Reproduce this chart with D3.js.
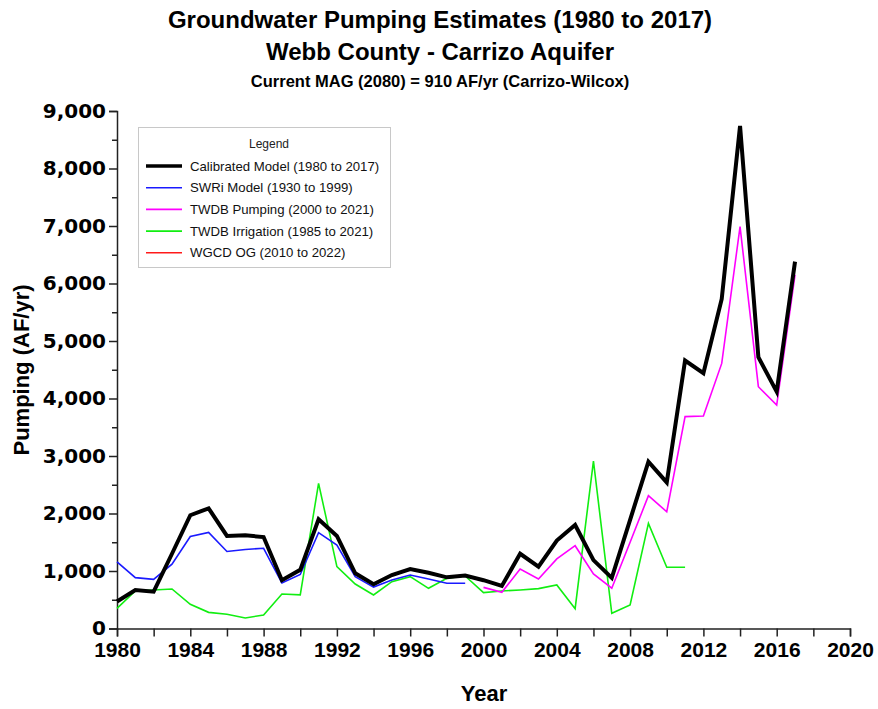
<!DOCTYPE html>
<html><head><meta charset="utf-8">
<script src="https://cdn.jsdelivr.net/npm/d3@7"></script>
<style>body{margin:0;background:#fff}svg{display:block}</style>
</head><body>
<svg id="c" width="878" height="709"></svg>
<script>
const calibratedYears = d3.range(1980, 2018);
const calibratedValues = [470,670,640,1300,1970,2090,1610,1620,1590,840,1020,1900,1610,960,770,930,1035,970,890,920,840,740,1300,1075,1530,1800,1190,880,1890,2900,2540,4660,4440,5730,8740,4720,4120,6380];
const swriYears = d3.range(1980, 2000);
const swriValues = [1160,885,855,1120,1600,1670,1340,1375,1395,790,940,1667,1450,900,720,845,930,860,786,786];
const twdbPumpYears = d3.range(2000, 2018);
const twdbPumpValues = [715,630,1035,860,1210,1440,950,700,1500,2310,2030,3685,3695,4610,6990,4205,3885,6150];
const irrigYears = d3.range(1980, 2012);
const irrigValues = [350,652,670,687,420,281,247,183,235,600,585,2525,1075,774,583,814,901,699,873,913,625,652,670,693,757,345,2913,264,409,1829,1064,1064];
const wgcdYears = [];
const wgcdValues = [];
const yTicks = [0,1000,2000,3000,4000,5000,6000,7000,8000,9000];
const xTicks = d3.range(1980, 2021, 4);
const legendLabels = ["Calibrated Model (1980 to 2017)","SWRi Model (1930 to 1999)","TWDB Pumping (2000 to 2021)","TWDB Irrigation (1985 to 2021)","WGCD OG (2010 to 2022)"];

const series = [
  {years: calibratedYears, values: calibratedValues, color: "#000000", width: 4},
  {years: swriYears, values: swriValues, color: "#1a1aff", width: 1.6},
  {years: twdbPumpYears, values: twdbPumpValues, color: "#ff00ff", width: 1.6},
  {years: irrigYears, values: irrigValues, color: "#11ee11", width: 1.6},
  {years: wgcdYears, values: wgcdValues, color: "#ff1a1a", width: 1.6}
];

const svg = d3.select("#c");
const x = d3.scaleLinear().domain([1980, 2020]).range([117, 850]);
const y = d3.scaleLinear().domain([0, 9000]).range([628.5, 111]);
const narrow = "'Liberation Sans Narrow','Liberation Sans',Arial,sans-serif";

// titles
svg.append("text").attr("x", 440).attr("y", 28).attr("text-anchor","middle")
  .style("font-family", narrow).style("font-weight","bold").style("font-size","24px")
  .text("Groundwater Pumping Estimates (1980 to 2017)");
svg.append("text").attr("x", 440).attr("y", 60).attr("text-anchor","middle")
  .style("font-family", narrow).style("font-weight","bold").style("font-size","24px")
  .text("Webb County - Carrizo Aquifer");
svg.append("text").attr("x", 440).attr("y", 87).attr("text-anchor","middle")
  .style("font-family", narrow).style("font-weight","bold").style("font-size","16.5px")
  .text("Current MAG (2080) = 910 AF/yr (Carrizo-Wilcox)");

// axes
const yAxis = d3.axisLeft(y).tickValues(yTicks).tickSize(8).tickFormat(d3.format(","));
const yg = svg.append("g").attr("transform","translate(117,0)").call(yAxis);
yg.select(".domain").attr("stroke","#222").attr("stroke-width",1.5);
yg.selectAll(".tick line").attr("stroke","#222").attr("stroke-width",1.5);
yg.selectAll(".tick text").attr("x",-11).style("font-family","'DejaVu Sans',Verdana,sans-serif")
  .style("font-weight","bold").style("font-size","20px").attr("fill","#000");
const yMinor = d3.axisLeft(y).tickValues(d3.range(500, 9000, 1000)).tickSize(5).tickFormat("");
const ym = svg.append("g").attr("transform","translate(117,0)").call(yMinor);
ym.select(".domain").remove();
ym.selectAll(".tick line").attr("stroke","#222").attr("stroke-width",1.5);

const xAxis = d3.axisBottom(x).tickValues(xTicks).tickSize(8).tickFormat(d3.format("d"));
const xg = svg.append("g").attr("transform","translate(0,628.5)").call(xAxis);
xg.select(".domain").attr("stroke","#222").attr("stroke-width",1.5);
xg.selectAll(".tick line").attr("stroke","#222").attr("stroke-width",1.5);
xg.selectAll(".tick text").attr("y",14).style("font-family", narrow)
  .style("font-weight","bold").style("font-size","21px").attr("fill","#000");
const xMinor = d3.axisBottom(x).tickValues(d3.range(1982, 2020, 4)).tickSize(8).tickFormat("");
const xm = svg.append("g").attr("transform","translate(0,628.5)").call(xMinor);
xm.select(".domain").remove();
xm.selectAll(".tick line").attr("stroke","#222").attr("stroke-width",1.5);

svg.append("text").attr("x", 484).attr("y", 701).attr("text-anchor","middle")
  .style("font-family", narrow).style("font-weight","bold").style("font-size","22px").text("Year");
svg.append("text").attr("transform","translate(29,370) rotate(-90)").attr("text-anchor","middle")
  .style("font-family", narrow).style("font-weight","bold").style("font-size","22px").text("Pumping (AF/yr)");

// lines
const line = d3.line().x(d => x(d[0])).y(d => y(d[1]));
const order = [3, 4, 1, 2, 0];
order.forEach(i => {
  const s = series[i];
  const pts = s.years.map((yr, j) => [yr, s.values[j]]);
  if (!pts.length) return;
  svg.append("path").datum(pts).attr("d", line).attr("fill","none")
    .attr("stroke", s.color).attr("stroke-width", s.width).attr("stroke-linejoin","miter");
});

// legend
const lg = svg.append("g");
lg.append("rect").attr("x",138.5).attr("y",127.5).attr("width",252).attr("height",140)
  .attr("fill","#fff").attr("stroke","#c8c8c8").attr("stroke-width",1);
lg.append("text").attr("x",269).attr("y",148).attr("text-anchor","middle")
  .style("font-family","'Liberation Sans',Arial,sans-serif").style("font-size","12px").attr("fill","#222").text("Legend");
legendLabels.forEach((lab, i) => {
  const yy = 166 + i * 21.7;
  lg.append("line").attr("x1",146).attr("x2",182).attr("y1",yy).attr("y2",yy)
    .attr("stroke", series[i].color).attr("stroke-width", i === 0 ? 3.5 : 1.6);
  lg.append("text").attr("x",190).attr("y",yy+4.5).attr("textLength", lab.length > 28 ? null : null)
    .style("font-family","'Liberation Sans',Arial,sans-serif").style("font-size","13.2px").attr("fill","#111").text(lab);
});
</script>
</body></html>
